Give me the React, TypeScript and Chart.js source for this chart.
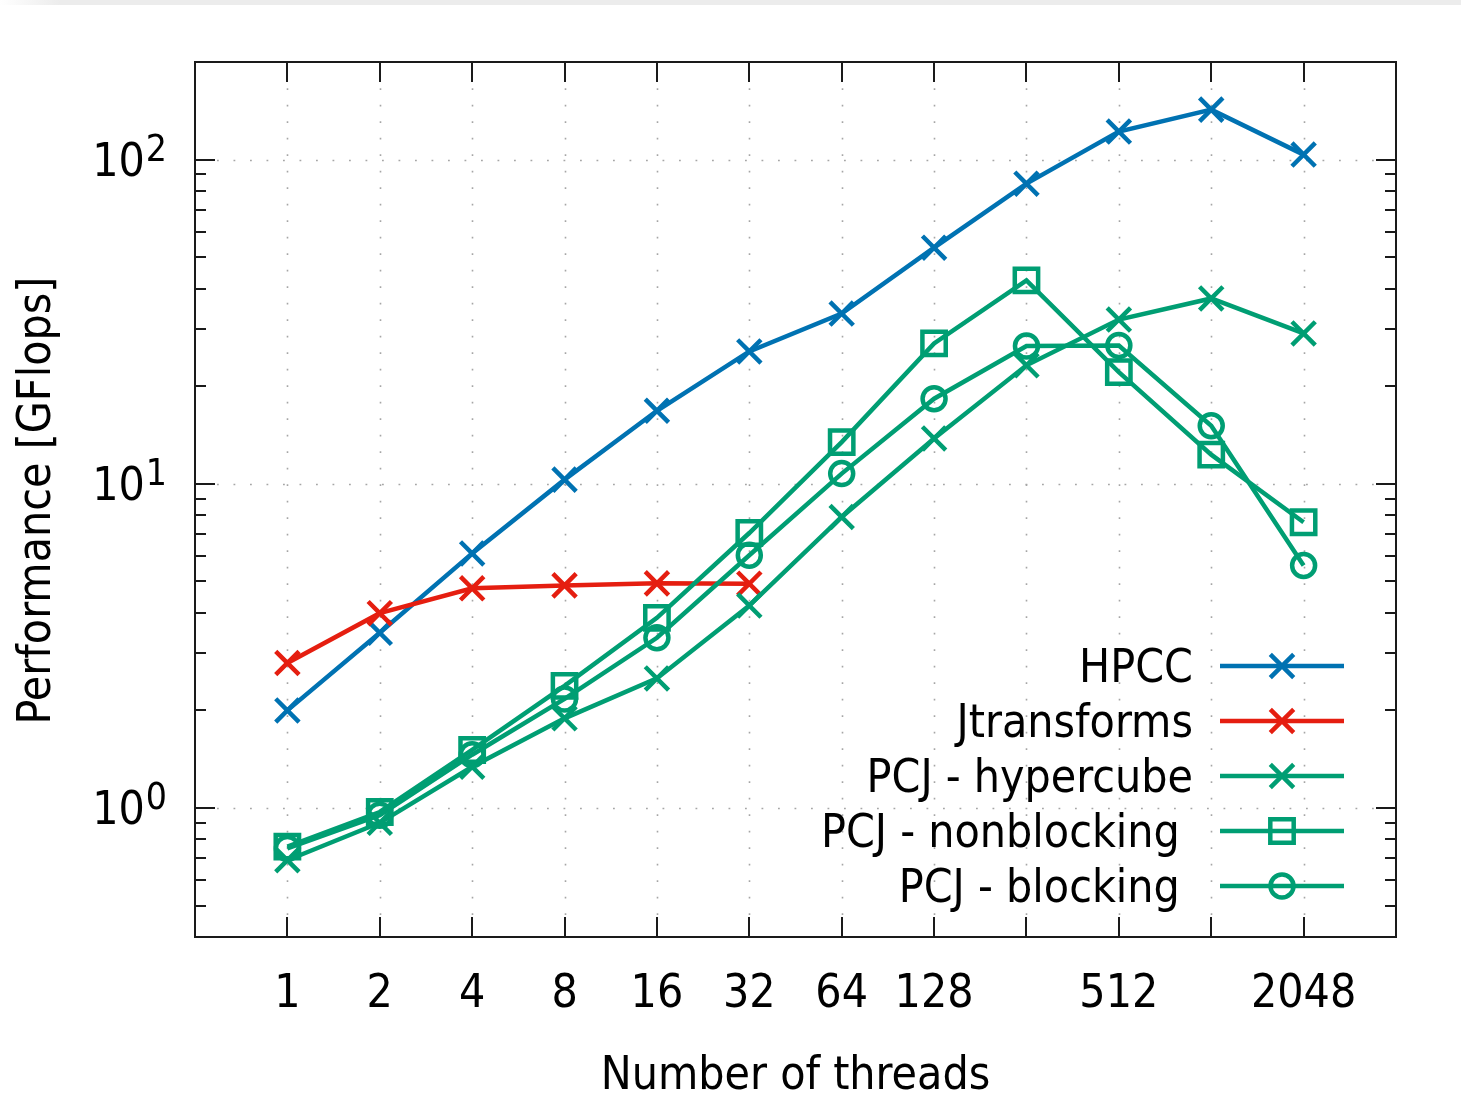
import React, { useEffect, useRef } from 'react';
import { Chart, registerables } from 'chart.js';

Chart.register(...registerables);

// Benchmark data: number of threads vs. performance in GFlops
const threads = [1, 2, 4, 8, 16, 32, 64, 128, 256, 512, 1024, 2048];
const xTickLabels = ['1', '2', '4', '8', '16', '32', '64', '128', '', '512', '', '2048'];
const yMajorTicks = [1, 10, 100];
const yTickExponents = ['0', '1', '2'];

const hpcc = [2.0, 3.47, 6.1, 10.3, 16.8, 25.6, 33.5, 53.5, 84.3, 122, 142.6, 103.6];
const jtransforms = [2.8, 3.99, 4.76, 4.86, 4.93, 4.92];
const pcjHypercube = [0.69, 0.9, 1.34, 1.89, 2.51, 4.21, 7.9, 13.8, 23.2, 32.1, 37.3, 29.1];
const pcjNonblocking = [0.76, 0.972, 1.51, 2.38, 3.86, 7.05, 13.45, 27.1, 42.4, 22.1, 12.3, 7.61];
const pcjBlocking = [0.75, 0.95, 1.46, 2.17, 3.35, 6.02, 10.75, 18.3, 26.6, 26.7, 15.1, 5.6];

const seriesLabels = ['HPCC', 'Jtransforms', 'PCJ - hypercube', 'PCJ - nonblocking ', 'PCJ - blocking '];
const seriesColors = ['#0072b2', '#e51e10', '#009e73', '#009e73', '#009e73'];
const seriesMarkers = ['crossRot', 'crossRot', 'crossRot', 'rect', 'circle'];

const FONT = '"DejaVu Sans Condensed", "Liberation Sans Narrow", "DejaVu Sans", sans-serif';
const LINE_W = 4.5;

const toPoints = (vals: number[]) => vals.map((y, i) => ({ x: threads[i], y }));

function markerRadius(style: string) {
  if (style === 'rect') return 16.5;
  if (style === 'circle') return 11.5;
  return 16.5;
}

function drawMarker(ctx: CanvasRenderingContext2D, style: string, x: number, y: number, color: string) {
  ctx.save();
  ctx.strokeStyle = color;
  ctx.lineWidth = LINE_W;
  ctx.beginPath();
  if (style === 'crossRot') {
    const a = 11.7;
    ctx.moveTo(x - a, y - a);
    ctx.lineTo(x + a, y + a);
    ctx.moveTo(x + a, y - a);
    ctx.lineTo(x - a, y + a);
  } else if (style === 'rect') {
    const s = 11.7;
    ctx.rect(x - s, y - s, 2 * s, 2 * s);
  } else {
    ctx.arc(x, y, 11.5, 0, Math.PI * 2);
  }
  ctx.stroke();
  ctx.restore();
}

const framePlugin = {
  id: 'gnuplotFrame',
  beforeDatasetsDraw(chart: any) {
    const { ctx, chartArea } = chart;
    const { left, right, top, bottom } = chartArea;
    const xs = chart.scales.x;
    const ys = chart.scales.y;
    ctx.save();

    // dotted grid at major ticks
    ctx.strokeStyle = '#a6a6a6';
    ctx.lineWidth = 1.6;
    ctx.setLineDash([1.8, 14.7]);
    threads.forEach((t) => {
      const px = Math.round(xs.getPixelForValue(t)) + 0.5;
      ctx.beginPath();
      ctx.moveTo(px, bottom - 22);
      ctx.lineTo(px, top + 22);
      ctx.stroke();
    });
    yMajorTicks.forEach((v) => {
      const py = Math.round(ys.getPixelForValue(v)) + 0.5;
      ctx.beginPath();
      ctx.moveTo(left + 22, py);
      ctx.lineTo(right - 22, py);
      ctx.stroke();
    });
    ctx.setLineDash([]);

    // tick marks on all four sides
    ctx.strokeStyle = '#1a1a1a';
    ctx.lineWidth = 2;
    ctx.beginPath();
    threads.forEach((t) => {
      const px = Math.round(xs.getPixelForValue(t));
      ctx.moveTo(px, bottom);
      ctx.lineTo(px, bottom - 20);
      ctx.moveTo(px, top);
      ctx.lineTo(px, top + 20);
    });
    const yMin = ys.min;
    const yMax = ys.max;
    for (let d = -1; d <= 2; d++) {
      for (let m = 1; m <= 9; m++) {
        const v = m * Math.pow(10, d);
        if (v < yMin || v > yMax) continue;
        const py = Math.round(ys.getPixelForValue(v));
        const len = m === 1 ? 20 : 11;
        ctx.moveTo(left, py);
        ctx.lineTo(left + len, py);
        ctx.moveTo(right, py);
        ctx.lineTo(right - len, py);
      }
    }
    ctx.stroke();

    // frame
    ctx.strokeRect(left, top, right - left, bottom - top);
    ctx.restore();
  },
  afterDraw(chart: any) {
    const { ctx, chartArea } = chart;
    const { left, right, top, bottom } = chartArea;
    const xs = chart.scales.x;
    const ys = chart.scales.y;
    ctx.save();
    ctx.fillStyle = '#000';

    // x tick labels
    ctx.font = `46px ${FONT}`;
    ctx.textAlign = 'center';
    ctx.textBaseline = 'alphabetic';
    threads.forEach((t, i) => {
      if (!xTickLabels[i]) return;
      ctx.fillText(xTickLabels[i], xs.getPixelForValue(t), 1007);
    });

    // y tick labels: 10 with raised exponent
    yMajorTicks.forEach((v, i) => {
      const py = ys.getPixelForValue(v);
      const rightEdge = left - 28;
      ctx.textAlign = 'right';
      ctx.font = `37px ${FONT}`;
      const expW = ctx.measureText(yTickExponents[i]).width;
      ctx.fillText(yTickExponents[i], rightEdge, py + 1);
      ctx.font = `46px ${FONT}`;
      ctx.fillText('10', rightEdge - expW - 1, py + 16);
    });

    // axis titles
    ctx.font = `46px ${FONT}`;
    ctx.textAlign = 'center';
    ctx.fillText('Number of threads', (left + right) / 2, 1089);
    ctx.save();
    ctx.translate(50, (top + bottom) / 2 + 1);
    ctx.rotate(-Math.PI / 2);
    ctx.fillText('Performance [GFlops]', 0, 0);
    ctx.restore();

    // key, bottom right inside the plot
    const textRight = 1193;
    const lineX0 = 1220;
    const lineX1 = 1344;
    const rowY0 = 666;
    const rowStep = 55;
    seriesLabels.forEach((label, i) => {
      const y = rowY0 + i * rowStep;
      ctx.font = `46px ${FONT}`;
      ctx.textAlign = 'right';
      ctx.fillStyle = '#000';
      ctx.fillText(label, textRight, y + 16);
      ctx.strokeStyle = seriesColors[i];
      ctx.lineWidth = LINE_W;
      ctx.beginPath();
      ctx.moveTo(lineX0, y);
      ctx.lineTo(lineX1, y);
      ctx.stroke();
      drawMarker(ctx, seriesMarkers[i], (lineX0 + lineX1) / 2, y, seriesColors[i]);
    });
    ctx.restore();
  },
};

export default function App() {
  const canvasRef = useRef<HTMLCanvasElement | null>(null);

  useEffect(() => {
    const canvas = canvasRef.current;
    if (!canvas) return;
    const seriesValues = [hpcc, jtransforms, pcjHypercube, pcjNonblocking, pcjBlocking];
    const chart = new Chart(canvas, {
      type: 'line',
      data: {
        datasets: seriesValues.map((vals, i) => ({
          label: seriesLabels[i],
          data: toPoints(vals),
          borderColor: seriesColors[i],
          backgroundColor: 'transparent',
          borderWidth: LINE_W,
          pointStyle: seriesMarkers[i] as any,
          pointRadius: markerRadius(seriesMarkers[i]),
          pointBorderWidth: LINE_W,
          pointBorderColor: seriesColors[i],
          pointBackgroundColor: 'transparent',
          tension: 0,
          order: seriesValues.length - i,
          clip: false as any,
        })),
      },
      options: {
        animation: false,
        responsive: false,
        events: [],
        layout: { padding: { left: 195, right: 65, top: 62, bottom: 173 } },
        plugins: { legend: { display: false }, tooltip: { enabled: false } },
        scales: {
          x: { type: 'logarithmic', min: 0.5, max: 4096, display: false },
          y: { type: 'logarithmic', min: 0.4, max: 200, display: false },
        },
      },
      plugins: [framePlugin],
    });
    return () => chart.destroy();
  }, []);

  return (
    <div style={{ position: 'absolute', left: 0, top: 0, width: 1461, height: 1110, background: '#fff' }}>
      <div
        style={{
          position: 'absolute',
          left: 0,
          top: 0,
          width: 1461,
          height: 5,
          background: 'linear-gradient(to right, #ffffff 0px, #ececec 60px, #ececec 100%)',
        }}
      />
      <canvas ref={canvasRef} width={1461} height={1110} style={{ display: 'block' }} />
    </div>
  );
}
